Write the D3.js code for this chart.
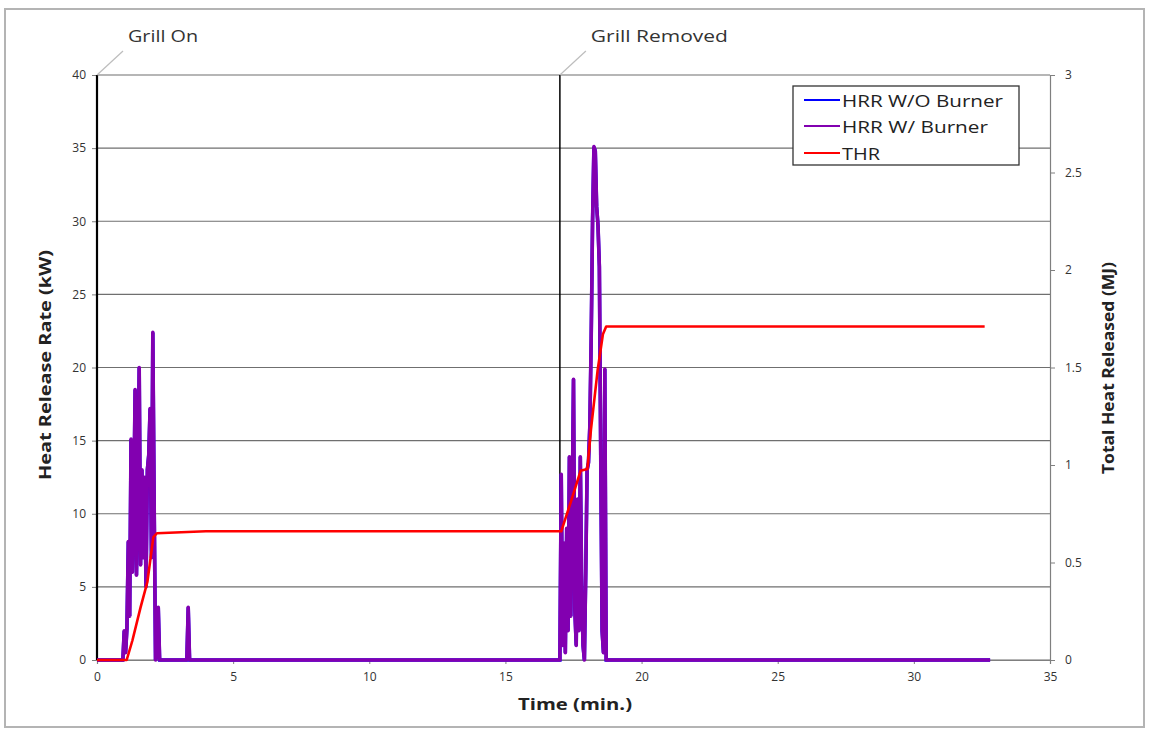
<!DOCTYPE html>
<html>
<head>
<meta charset="utf-8">
<script src="https://cdn.jsdelivr.net/npm/d3@7"></script>
<style>
  html, body { margin: 0; padding: 0; background: #fff; }
  svg { display: block; }
  text { font-family: "Open Sans", "Liberation Sans", sans-serif; }
</style>
</head>
<body>
<svg id="chart" width="1149" height="731"></svg>
<script>
// ---------------- DATA ----------------
// Heat release rate (kW) vs time (min)
const hrrTime = [0, 0.95, 1.00, 1.05, 1.10, 1.15, 1.20, 1.25, 1.30, 1.35, 1.40, 1.45, 1.50, 1.55, 1.60, 1.65, 1.70, 1.75, 1.80, 1.85, 1.90, 1.95, 2.00, 2.05, 2.10, 2.15, 2.20, 2.25, 2.30, 3.30, 3.35, 3.40,
  17.00, 17.05, 17.10, 17.15, 17.20, 17.25, 17.30, 17.35, 17.40, 17.45, 17.50, 17.55, 17.60, 17.65, 17.70, 17.75, 17.80, 17.85, 17.90, 17.95, 18.00, 18.05, 18.10, 18.15, 18.20, 18.25, 18.30, 18.35, 18.40, 18.45, 18.50, 18.55, 18.60, 18.65, 18.70, 32.80];
const hrrWithBurner = [0, 0, 2.0, 0.5, 2.2, 8.1, 3.0, 15.1, 6.0, 10.6, 18.5, 5.8, 12.0, 20.0, 6.5, 13.0, 7.0, 12.5, 5.0, 13.0, 14.0, 17.2, 7.0, 22.4, 10.6, 0, 0.4, 3.6, 0, 0, 3.6, 0,
  0, 12.7, 1.0, 8.0, 0.5, 9.0, 2.0, 13.9, 3.0, 10.0, 19.2, 3.4, 1.0, 11.0, 2.0, 13.9, 5.0, 1.0, 0, 6.0, 13.0, 13.5, 16.0, 22.0, 30.0, 35.1, 34.8, 31.0, 29.7, 26.9, 14.0, 2.0, 0.5, 19.9, 0, 0];
// W/O burner curve lies entirely beneath the W/ burner curve in the reference
const hrrWithoutBurner = [0, 0, 2.0, 0.5, 2.2, 8.1, 3.0, 15.1, 6.0, 10.6, 18.5, 5.8, 12.0, 20.0, 6.5, 13.0, 7.0, 12.5, 5.0, 13.0, 14.0, 17.2, 7.0, 22.4, 10.6, 0, 0.4, 3.6, 0, 0, 3.6, 0,
  0, 12.7, 1.0, 8.0, 0.5, 9.0, 2.0, 13.9, 3.0, 10.0, 19.2, 3.4, 1.0, 11.0, 2.0, 13.9, 5.0, 1.0, 0, 6.0, 13.0, 13.5, 16.0, 22.0, 30.0, 35.1, 34.8, 31.0, 29.7, 26.9, 14.0, 2.0, 0.5, 19.9, 0, 0];

// Total heat released (MJ)
const thrTime = [0, 1.09, 1.30, 1.60, 1.85, 2.07, 2.20, 4.00, 17.05, 17.40, 17.76, 18.01, 18.14, 18.39, 18.58, 18.70, 32.60];
const thrMJ   = [0, 0, 0.10, 0.27, 0.40, 0.63, 0.65, 0.66, 0.66, 0.81, 0.97, 0.98, 1.18, 1.49, 1.67, 1.71, 1.71];

const xTicks = [0, 5, 10, 15, 20, 25, 30, 35];
const yLeftTicks = [0, 5, 10, 15, 20, 25, 30, 35, 40];
const yRightTicks = [0, 0.5, 1, 1.5, 2, 2.5, 3];
const events = [{t: 0, label: "Grill On"}, {t: 17, label: "Grill Removed"}];
const seriesNames = ["HRR W/O Burner", "HRR W/ Burner", "THR"];

// ---------------- LAYOUT ----------------
const svg = d3.select("#chart");
const L = 97, R = 1050, T = 75, B = 660;
const x = d3.scaleLinear().domain([0, 35]).range([L, R]);
const yL = d3.scaleLinear().domain([0, 40]).range([B, T]);
const yR = d3.scaleLinear().domain([0, 3]).range([B, T]);

const colors = { without: "#0000ff", with: "#8200b0", thr: "#ff0000" };

// outer frame
svg.append("rect").attr("x", 5).attr("y", 9).attr("width", 1139).attr("height", 718)
  .attr("fill", "#fff").attr("stroke", "#b4b4b4").attr("stroke-width", 2);

// horizontal gridlines
svg.append("g").selectAll("line").data(yLeftTicks).join("line")
  .attr("x1", L).attr("x2", R)
  .attr("y1", d => yL(d)).attr("y2", d => yL(d))
  .attr("stroke", "#6f6f6f").attr("stroke-width", 1.2);

// left axis
const gL = svg.append("g").attr("transform", `translate(${L},0)`)
  .call(d3.axisLeft(yL).tickValues(yLeftTicks).tickSize(5).tickPadding(6).tickFormat(d3.format("d")));
gL.select(".domain").remove();
gL.selectAll(".tick line").attr("stroke", "#7f7f7f");
gL.selectAll("text").attr("font-size", 12).attr("fill", "#333");

// right axis
const gR = svg.append("g").attr("transform", `translate(${R},0)`)
  .call(d3.axisRight(yR).tickValues(yRightTicks).tickSize(5).tickPadding(10).tickFormat(d => String(d)));
gR.select(".domain").attr("stroke", "#7f7f7f").attr("stroke-width", 1.2);
gR.selectAll(".tick line").attr("stroke", "#7f7f7f");
gR.selectAll("text").attr("font-size", 12).attr("fill", "#333");

// bottom axis
const gB = svg.append("g").attr("transform", `translate(0,${B})`)
  .call(d3.axisBottom(x).tickValues(xTicks).tickSize(4).tickPadding(8).tickFormat(d3.format("d")));
gB.select(".domain").attr("stroke", "#7f7f7f").attr("stroke-width", 1.2);
gB.selectAll(".tick line").attr("stroke", "#7f7f7f");
gB.selectAll("text").attr("font-size", 12).attr("fill", "#333");

// event lines and annotations
const ev = svg.append("g");
ev.selectAll("line.ev").data(events).join("line").attr("class", "ev")
  .attr("x1", d => x(d.t)).attr("x2", d => x(d.t))
  .attr("y1", yL(40)).attr("y2", yL(0))
  .attr("stroke", "#000").attr("stroke-width", (d, i) => i === 0 ? 2.2 : 1.5);
ev.selectAll("line.lead").data(events).join("line").attr("class", "lead")
  .attr("x1", d => x(d.t)).attr("y1", yL(40))
  .attr("x2", d => x(d.t) + 26).attr("y2", yL(40) - 24)
  .attr("stroke", "#bdbdbd").attr("stroke-width", 1.2);
const evLens = [70, 137];
ev.selectAll("text").data(events).join("text")
  .attr("x", d => x(d.t) + 31).attr("y", 42)
  .attr("font-size", 17).attr("fill", "#333")
  .attr("textLength", (d, i) => evLens[i]).attr("lengthAdjust", "spacingAndGlyphs")
  .text(d => d.label);

// series
const lineL = d3.line().x(d => x(d[0])).y(d => yL(d[1]));
const lineR = d3.line().x(d => x(d[0])).y(d => yR(d[1]));
svg.append("path").datum(d3.zip(hrrTime, hrrWithoutBurner)).attr("d", lineL)
  .attr("fill", "none").attr("stroke", colors.without).attr("stroke-width", 3.5);
svg.append("path").datum(d3.zip(hrrTime, hrrWithBurner)).attr("d", lineL)
  .attr("fill", "none").attr("stroke", colors.with).attr("stroke-width", 3.6).attr("stroke-linejoin", "round");
svg.append("path").datum(d3.zip(thrTime, thrMJ)).attr("d", lineR)
  .attr("fill", "none").attr("stroke", colors.thr).attr("stroke-width", 2.6).attr("stroke-linejoin", "round");

// axis titles
svg.append("text").attr("transform", "translate(51,365) rotate(-90)")
  .attr("text-anchor", "middle").attr("font-size", 16).attr("font-weight", "bold").attr("fill", "#222")
  .attr("textLength", 230).attr("lengthAdjust", "spacingAndGlyphs")
  .text("Heat Release Rate (kW)");
svg.append("text").attr("transform", "translate(1114,368) rotate(-90)")
  .attr("text-anchor", "middle").attr("font-size", 16).attr("font-weight", "bold").attr("fill", "#222")
  .attr("textLength", 212).attr("lengthAdjust", "spacingAndGlyphs")
  .text("Total Heat Released (MJ)");
svg.append("text").attr("x", 575).attr("y", 710)
  .attr("text-anchor", "middle").attr("font-size", 16).attr("font-weight", "bold").attr("fill", "#222")
  .attr("textLength", 114).attr("lengthAdjust", "spacingAndGlyphs")
  .text("Time (min.)");

// legend
const lg = svg.append("g");
lg.append("rect").attr("x", 793).attr("y", 86).attr("width", 226).attr("height", 79)
  .attr("fill", "#fff").attr("stroke", "#333").attr("stroke-width", 1.3);
const lgColors = [colors.without, colors.with, colors.thr];
const lgLens = [161, 146, 38];
const lgRowY = [100, 126, 153];
seriesNames.forEach((name, i) => {
  lg.append("line").attr("x1", 804).attr("x2", 840).attr("y1", lgRowY[i]).attr("y2", lgRowY[i])
    .attr("stroke", lgColors[i]).attr("stroke-width", 2.2);
  lg.append("text").attr("x", 842).attr("y", lgRowY[i] + 6.5)
    .attr("font-size", 17).attr("fill", "#222")
    .attr("textLength", lgLens[i]).attr("lengthAdjust", "spacingAndGlyphs")
    .text(name);
});
</script>
</body>
</html>
